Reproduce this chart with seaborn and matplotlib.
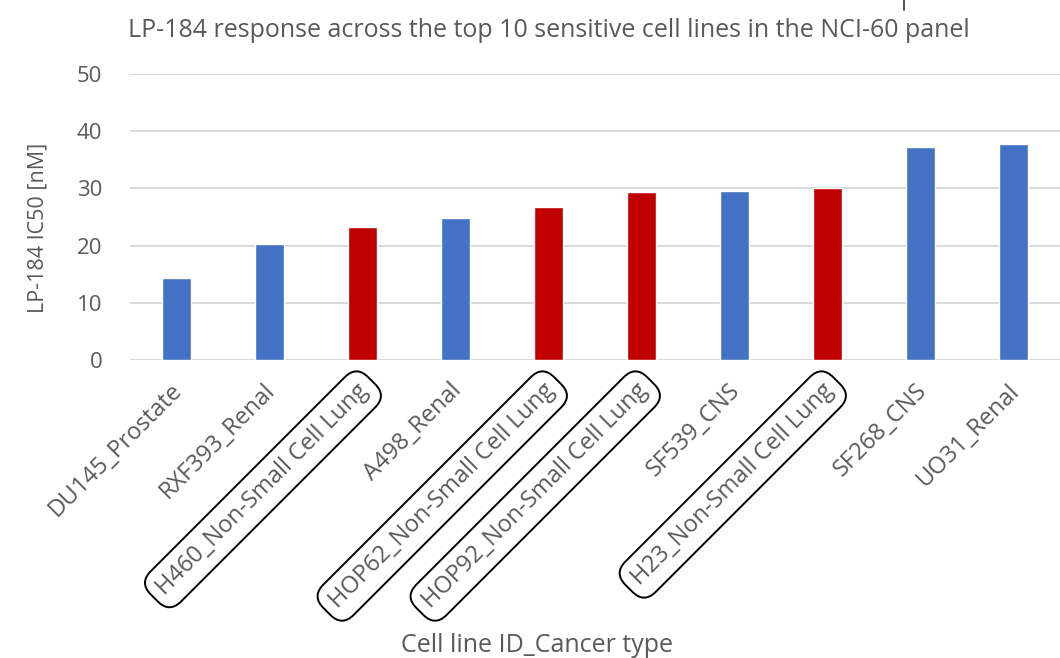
import matplotlib
matplotlib.use("Agg")
import matplotlib.pyplot as plt
import matplotlib.transforms as mtransforms
import seaborn as sns
import pandas as pd
from matplotlib.lines import Line2D

# data
cell_lines = ["DU145_Prostate", "RXF393_Renal", "H460_Non-Small Cell Lung", "A498_Renal",
              "HOP62_Non-Small Cell Lung", "HOP92_Non-Small Cell Lung", "SF539_CNS",
              "H23_Non-Small Cell Lung", "SF268_CNS", "UO31_Renal"]
ic50 = [14.3, 20.2, 23.3, 24.9, 26.8, 29.4, 29.6, 30.0, 37.3, 37.7]
is_lung = ["Non-Small Cell Lung" in c for c in cell_lines]
y_ticks = [0, 10, 20, 30, 40, 50]

df = pd.DataFrame({"cell": cell_lines, "ic50": ic50,
                   "group": ["lung" if l else "other" for l in is_lung]})

sns.set_style("white")
plt.rcParams["font.family"] = ["Open Sans", "DejaVu Sans"]
grey = "#595959"

fig = plt.figure(figsize=(10.6, 6.58), dpi=100)
ax = fig.add_axes([0.1226, 0.4529, 0.8774, 0.4346])

sns.barplot(data=df, x="cell", y="ic50", hue="group", dodge=False,
            palette={"lung": "#C00000", "other": "#4472C4"},
            width=0.315, saturation=1, legend=False, ax=ax, zorder=3)

ax.set_ylim(0, 50)
ax.set_yticks(y_ticks)
ax.set_xlim(-0.5, len(cell_lines) - 0.5)
ax.yaxis.grid(True, color="#D9D9D9", linewidth=1.4, zorder=0)
ax.set_axisbelow(True)
for s in ["top", "right", "left", "bottom"]:
    ax.spines[s].set_visible(False)
ax.tick_params(axis="y", labelsize=16, colors=grey, length=0, pad=20)
ax.tick_params(axis="x", length=0, pad=15)

ax.set_xticks(range(len(cell_lines)))
ax.set_xticklabels(cell_lines, rotation=45, ha="right", rotation_mode="anchor",
                   fontsize=17, color=grey)
shift = mtransforms.ScaledTranslation(-6 / 100, 2 / 100, fig.dpi_scale_trans)
for lab, lung in zip(ax.get_xticklabels(), is_lung):
    lab.set_transform(lab.get_transform() + shift)
    if lung:
        lab.set_bbox(dict(boxstyle="round,pad=0.4,rounding_size=0.7",
                          fc="none", ec="black", lw=1.4))

ax.set_xlabel("Cell line ID_Cancer type", fontsize=18, color=grey)
ax.xaxis.set_label_coords(0.438, -0.955)
ax.set_ylabel("LP-184 IC50 [nM]", fontsize=15.5, color=grey)
ax.yaxis.set_label_coords(-0.088, 0.4615)

fig.text(0.518, 0.953, "LP-184 response across the top 10 sensitive cell lines in the NCI-60 panel",
         ha="center", va="center", fontsize=18, color=grey)

# small stray mark at the top edge of the original image
fig.add_artist(Line2D([904 / 1060, 904 / 1060], [1.0, 1 - 10 / 658], color="#333333", lw=1.2))

fig.savefig("out.png", dpi=100)
